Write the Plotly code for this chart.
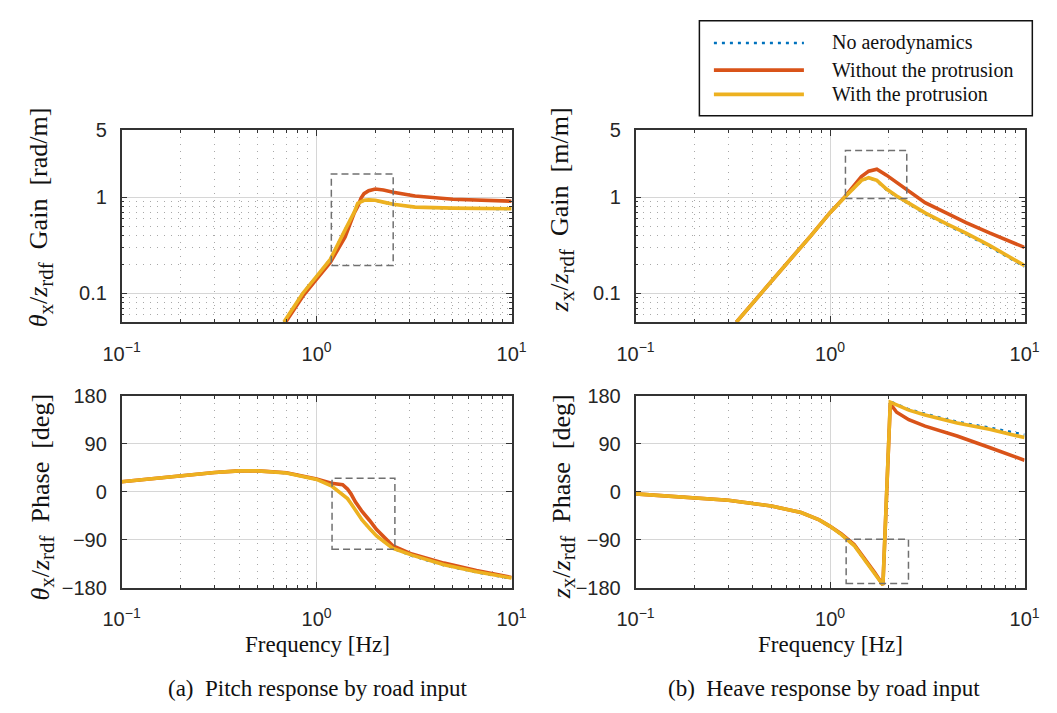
import math
import plotly.graph_objects as go

W, H = 1057, 713

# ---------------- data ----------------
series_names = ["No aerodynamics", "Without the protrusion", "With the protrusion"]
series_colors = ["#0072BD", "#D95319", "#EDB120"]

# (a) pitch response – gain [rad/m]
pitch_gain_freq = [0.68, 0.85, 1.0, 1.175, 1.4, 1.56, 1.625, 1.69, 1.75, 1.85, 2.0, 2.2, 2.47, 3.2, 5.0, 10.0]
pitch_gain_noaero = [0.050, 0.100, 0.150, 0.226, 0.460, 0.700, 0.860, 0.900, 0.925, 0.935, 0.925, 0.885, 0.840, 0.785, 0.765, 0.755]
pitch_gain_without = [0.047, 0.093, 0.140, 0.209, 0.386, 0.687, 0.800, 0.980, 1.090, 1.170, 1.220, 1.190, 1.130, 1.030, 0.955, 0.910]
pitch_gain_with = [0.050, 0.100, 0.150, 0.225, 0.457, 0.700, 0.865, 0.905, 0.930, 0.940, 0.930, 0.890, 0.845, 0.790, 0.770, 0.760]

# (a) pitch response – phase [deg]
pitch_phase_freq = [0.1, 0.2, 0.3, 0.4, 0.5, 0.7, 1.0, 1.19, 1.3, 1.36, 1.44, 1.5, 1.58, 1.71, 1.87, 2.03, 2.45, 3.08, 4.5, 6.6, 10.0]
pitch_phase_noaero = [18.5, 30, 36, 39, 39, 35, 23, 11, 0, -6, -13, -22, -35, -53, -69, -83, -106, -120, -138, -151, -163]
pitch_phase_without = [18.7, 30, 36, 39, 39, 35.5, 24, 16, 14, 13, 5, -4, -19, -37, -54, -71, -101, -117, -134, -148, -161]
pitch_phase_with = [18.7, 30, 36, 39, 39, 35, 23, 11, 0, -6, -13, -22, -35, -53, -69, -83, -106, -119, -137, -150, -162]

# (b) heave response – gain [m/m]
heave_gain_freq = [0.33, 0.45, 0.6, 0.8, 1.0, 1.19, 1.33, 1.45, 1.58, 1.74, 1.95, 2.2, 2.5, 3.08, 4.0, 5.0, 6.6, 8.0, 10.0]
heave_gain_noaero = [0.050, 0.105, 0.205, 0.400, 0.690, 1.000, 1.270, 1.490, 1.590, 1.480, 1.200, 1.010, 0.870, 0.672, 0.512, 0.412, 0.306, 0.246, 0.189]
heave_gain_without = [0.050, 0.105, 0.205, 0.400, 0.690, 1.010, 1.320, 1.640, 1.870, 1.960, 1.700, 1.430, 1.180, 0.880, 0.680, 0.545, 0.425, 0.360, 0.300]
heave_gain_with = [0.050, 0.105, 0.205, 0.400, 0.690, 1.000, 1.270, 1.500, 1.600, 1.500, 1.220, 1.030, 0.885, 0.687, 0.525, 0.423, 0.315, 0.252, 0.194]

# (b) heave response – phase [deg]
heave_phase_freq = [0.1, 0.2, 0.3, 0.4, 0.5, 0.71, 0.88, 1.0, 1.14, 1.33, 1.55, 1.7, 1.87, 2.04, 2.2, 2.54, 3.08, 4.5, 6.6, 10.0]
heave_phase_noaero = [-4, -11.5, -16, -22, -27, -39, -53, -65, -80, -101, -134, -154, -175, 169, 164, 154.5, 146, 131, 120, 107]
heave_phase_without = [-4, -11.5, -16, -22, -27, -39, -53, -65, -79, -99, -131, -152, -175, 165, 149, 135, 123, 104.5, 83, 59]
heave_phase_with = [-4, -11.5, -16, -22, -27, -39, -53, -65, -80, -101, -134, -154, -175, 168, 163, 153, 144, 129, 117, 101.5]

# ticks
freq_tick_vals = [0.1, 1, 10]
freq_tick_text = ["10<sup>\u22121</sup>", "10<sup>0</sup>", "10<sup>1</sup>"]
freq_minor_vals = [0.2, 0.3, 0.4, 0.5, 0.6, 0.7, 0.8, 0.9, 2, 3, 4, 5, 6, 7, 8, 9]
gain_tick_vals = [0.1, 1, 5]
gain_tick_text = ["0.1", "1", "5"]
gain_minor_vals = [0.06, 0.07, 0.08, 0.09, 0.2, 0.3, 0.4, 0.5, 0.6, 0.7, 0.8, 0.9]
phase_tick_vals = [-180, -90, 0, 90, 180]
phase_tick_text = ["\u2212180", "\u221290", "0", "90", "180"]

# zoom boxes (x0, x1, y0, y1) in data units
box_pitch_gain = (1.19, 2.47, 0.195, 1.75)
box_heave_gain = (1.2, 2.48, 0.97, 3.07)
box_pitch_phase = (1.2, 2.52, -108, 25)
box_heave_phase = (1.21, 2.53, -172, -89)

# texts
SUB = "<sub><span style='font-size:21px'>%s</span></sub>"
ylabel_pitch_gain = "<i>\u03b8</i>" + SUB % "x" + "/<i>z</i>" + SUB % "rdf" + "\u2002Gain\u2002[rad/m]"
ylabel_heave_gain = "<i>z</i>" + SUB % "x" + "/<i>z</i>" + SUB % "rdf" + "\u2002Gain\u2002[m/m]"
ylabel_pitch_phase = "<i>\u03b8</i>" + SUB % "x" + "/<i>z</i>" + SUB % "rdf" + "\u2002Phase\u2002[deg]"
ylabel_heave_phase = "<i>z</i>" + SUB % "x" + "/<i>z</i>" + SUB % "rdf" + "\u2002Phase\u2002[deg]"
xlabel = "Frequency [Hz]"
caption_a = "(a)\u2002Pitch response by road input"
caption_b = "(b)\u2002Heave response by road input"

# ---------------- figure ----------------
SERIF = "Liberation Serif, Times New Roman, serif"
SANS = "Liberation Sans, Arial, sans-serif"

fig = go.Figure()

panels = [
    (1, pitch_gain_freq, [pitch_gain_noaero, pitch_gain_without, pitch_gain_with]),
    (2, heave_gain_freq, [heave_gain_noaero, heave_gain_without, heave_gain_with]),
    (3, pitch_phase_freq, [pitch_phase_noaero, pitch_phase_without, pitch_phase_with]),
    (4, heave_phase_freq, [heave_phase_noaero, heave_phase_without, heave_phase_with]),
]
for idx, f, ys in panels:
    xa = "x" if idx == 1 else "x%d" % idx
    ya = "y" if idx == 1 else "y%d" % idx
    for k in range(3):
        if k == 0:
            line = dict(color=series_colors[0], width=2.6, dash="3px,5px")
        else:
            line = dict(color=series_colors[k], width=3.6)
        fig.add_trace(go.Scatter(x=f, y=ys[k], mode="lines", line=line,
                                 name=series_names[k], showlegend=False,
                                 xaxis=xa, yaxis=ya, hoverinfo="skip"))

px = lambda v: v / W
py = lambda v: 1 - v / H

x_dom_a = [px(106), px(509)]
x_dom_b = [px(637), px(1039)]
y_dom_top = [py(321), py(123)]
y_dom_bot = [py(595), py(397)]

AX = "#333333"


def xcfg(domain, anchor):
    return dict(type="log", range=[-1, 1], domain=domain, anchor=anchor,
                tickmode="array", tickvals=freq_tick_vals, ticktext=freq_tick_text,
                ticks="inside", ticklen=6, tickwidth=1, tickcolor=AX,
                showline=True, linecolor=AX, linewidth=1.5, mirror="ticks",
                showgrid=True, gridcolor="#d6d6d6", gridwidth=1, zeroline=False,
                minor=dict(tickmode="array", tickvals=freq_minor_vals, ticks="inside", ticklen=3,
                           tickcolor=AX, showgrid=True, gridcolor="#a8a8a8", gridwidth=1,
                           griddash="1px,6px"),
                tickfont=dict(family=SANS, size=20, color="#262626"),
                ticklabelstandoff=13)


def ygain(domain, anchor):
    return dict(type="log", range=[math.log10(0.05), math.log10(5)], domain=domain, anchor=anchor,
                tickmode="array", tickvals=gain_tick_vals, ticktext=gain_tick_text,
                ticks="inside", ticklen=6, tickwidth=1, tickcolor=AX,
                showline=True, linecolor=AX, linewidth=1.5, mirror="ticks",
                showgrid=True, gridcolor="#d6d6d6", gridwidth=1, zeroline=False,
                minor=dict(tickmode="array", tickvals=gain_minor_vals, ticks="inside", ticklen=3,
                           tickcolor=AX, showgrid=True, gridcolor="#a8a8a8", gridwidth=1,
                           griddash="1px,6px"),
                tickfont=dict(family=SANS, size=20, color="#262626"),
                ticklabelstandoff=9)


def yphase(domain, anchor):
    return dict(range=[-180, 180], domain=domain, anchor=anchor,
                tickmode="array", tickvals=phase_tick_vals, ticktext=phase_tick_text,
                ticks="inside", ticklen=6, tickwidth=1, tickcolor=AX,
                showline=True, linecolor=AX, linewidth=1.5, mirror="ticks",
                showgrid=True, gridcolor="#d6d6d6", gridwidth=1, zeroline=False,
                tickfont=dict(family=SANS, size=20, color="#262626"),
                ticklabelstandoff=9)


fig.update_layout(
    width=W, height=H, margin=dict(l=0, r=0, t=0, b=0),
    paper_bgcolor="white", plot_bgcolor="white", showlegend=False,
    xaxis=xcfg(x_dom_a, "y"), yaxis=ygain(y_dom_top, "x"),
    xaxis2=xcfg(x_dom_b, "y2"), yaxis2=ygain(y_dom_top, "x2"),
    xaxis3=xcfg(x_dom_a, "y3"), yaxis3=yphase(y_dom_bot, "x3"),
    xaxis4=xcfg(x_dom_b, "y4"), yaxis4=yphase(y_dom_bot, "x4"),
)

# dashed zoom boxes
for (xr, yr), box in zip([("x", "y"), ("x2", "y2"), ("x3", "y3"), ("x4", "y4")],
                         [box_pitch_gain, box_heave_gain, box_pitch_phase, box_heave_phase]):
    fig.add_shape(type="rect", xref=xr, yref=yr, x0=box[0], x1=box[1], y0=box[2], y1=box[3],
                  line=dict(color="#707070", width=1.5, dash="7px,4px"), layer="above")

# axis titles (rotated)
for text, xc, yt in [(ylabel_pitch_gain, 22, 97), (ylabel_heave_gain, 561, 97),
                     (ylabel_pitch_phase, 24, 393), (ylabel_heave_phase, 562, 393)]:
    fig.add_annotation(text=text, xref="paper", yref="paper", x=px(xc), y=py(yt),
                       xanchor="center", yanchor="top", textangle=-90, showarrow=False,
                       font=dict(family=SERIF, size=26, color="#111111"))

for xc in (308, 838):
    fig.add_annotation(text=xlabel, xref="paper", yref="paper", x=px(xc), y=py(654),
                       xanchor="center", yanchor="middle", showarrow=False,
                       font=dict(family=SERIF, size=23, color="#111111"))

for text, xc in [(caption_a, 309), (caption_b, 832)]:
    fig.add_annotation(text=text, xref="paper", yref="paper", x=px(xc), y=py(699),
                       xanchor="center", yanchor="middle", showarrow=False,
                       font=dict(family=SERIF, size=23, color="#111111"))

# legend (drawn manually)
fig.add_shape(type="rect", xref="paper", yref="paper", x0=px(703), x1=px(1047), y0=py(108), y1=py(10),
              line=dict(color="#111111", width=1.5), fillcolor="white", layer="above")
legend_rows = [33, 61, 86]
for k in range(3):
    yy = py(legend_rows[k])
    if k == 0:
        ln = dict(color=series_colors[0], width=2.6, dash="3px,5px")
    else:
        ln = dict(color=series_colors[k], width=3.6)
    fig.add_shape(type="line", xref="paper", yref="paper", x0=px(718), x1=px(811), y0=yy, y1=yy,
                  line=ln, layer="above")
    fig.add_annotation(text=series_names[k], xref="paper", yref="paper", x=px(838), y=yy,
                       xanchor="left", yanchor="middle", showarrow=False,
                       font=dict(family=SERIF, size=20, color="#111111"))

fig.write_html("out.html",
               post_script="document.body.style.margin='0px';document.body.style.overflow='hidden';")
